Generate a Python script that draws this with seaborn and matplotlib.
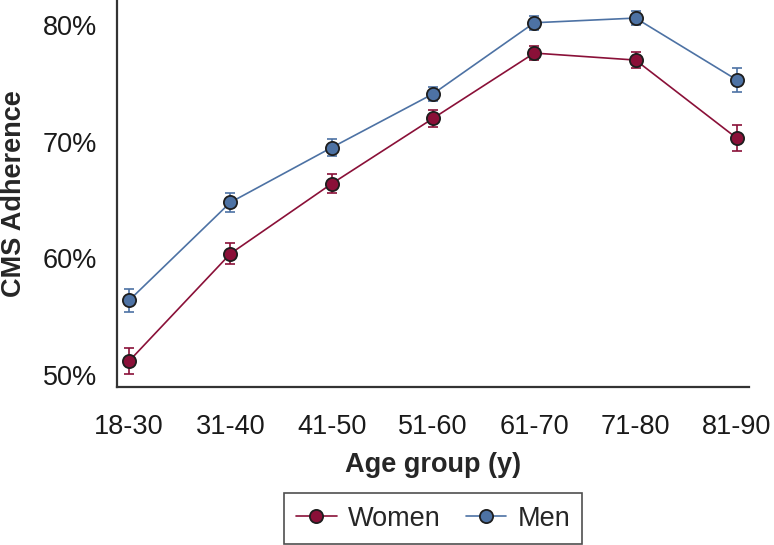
import matplotlib

matplotlib.use("Agg")

import matplotlib.pyplot as plt
import pandas as pd
import seaborn as sns
from matplotlib.lines import Line2D

# values (percent)
age_groups = ["18-30", "31-40", "41-50", "51-60", "61-70", "71-80", "81-90"]
women = [51.2, 60.4, 66.4, 72.0, 77.6, 77.0, 70.3]
women_err = [1.15, 0.9, 0.8, 0.7, 0.6, 0.7, 1.1]
men = [56.4, 64.8, 69.5, 74.1, 80.2, 80.6, 75.3]
men_err = [1.0, 0.8, 0.7, 0.6, 0.6, 0.6, 1.0]
y_ticks = [50, 60, 70, 80]

WOMEN_COLOR = "#8A1038"
MEN_COLOR = "#4D72A4"
EDGE = "#1E1E1E"
FS = 19.5

df = pd.DataFrame(
    {
        "age": age_groups * 2,
        "pos": list(range(len(age_groups))) * 2,
        "value": women + men,
        "err": women_err + men_err,
        "sex": ["Women"] * len(age_groups) + ["Men"] * len(age_groups),
    }
)

sns.set_theme(style="white")
plt.rcParams["font.family"] = ["Liberation Sans", "DejaVu Sans"]

fig = plt.figure(figsize=(7.74, 5.45), dpi=100)
ax = fig.add_axes([117 / 774, 1 - 387 / 545, (749 - 117) / 774, 387 / 545])

palette = {"Women": WOMEN_COLOR, "Men": MEN_COLOR}
for sex, grp in df.groupby("sex", sort=False):
    ax.errorbar(
        grp["pos"], grp["value"], yerr=grp["err"], fmt="none",
        ecolor=palette[sex], elinewidth=1.2, capsize=3.5, capthick=1.2, zorder=2,
    )

sns.lineplot(
    data=df, x="pos", y="value", hue="sex", palette=palette, ax=ax,
    marker="o", markersize=9.5, markeredgecolor=EDGE, markeredgewidth=1.3,
    linewidth=1.2, errorbar=None, legend=False, zorder=3,
)

ax.set_xlim(-0.12, 6.12)
ax.set_ylim(48.97, 82.15)
ax.set_xticks(range(len(age_groups)))
ax.set_xticklabels(age_groups)
ax.set_yticks(y_ticks)
ax.set_yticklabels([f"{t}%" for t in y_ticks])

for side in ["top", "right"]:
    ax.spines[side].set_visible(False)
for side in ["left", "bottom"]:
    ax.spines[side].set_color("#333333")
    ax.spines[side].set_linewidth(1.6)

ax.tick_params(axis="both", direction="out", length=6.5, width=1.4, color="#333333",
               labelsize=FS, labelcolor="#1a1a1a")
ax.tick_params(axis="y", pad=8)
ax.tick_params(axis="x", pad=13)
ax.grid(False)

ax.set_xlabel("Age group (y)", fontsize=FS, fontweight="bold", labelpad=8.5)
ax.set_ylabel("CMS Adherence", fontsize=FS, fontweight="bold")
ax.yaxis.set_label_coords(-0.142, 0.5)

handles = [
    Line2D([], [], color=palette[s], marker="o", markersize=9.5, markeredgecolor=EDGE,
           markeredgewidth=1.3, linewidth=1.2)
    for s in ["Women", "Men"]
]
leg = fig.legend(
    handles, ["Women", "Men"], loc="center", bbox_to_anchor=(433 / 774, 1 - 518.5 / 545),
    ncol=2, fontsize=FS, frameon=True, fancybox=False, handlelength=1.5,
    columnspacing=0.95, handletextpad=0.4, borderpad=0.45,
)
leg.get_frame().set_edgecolor("#222222")
leg.get_frame().set_linewidth(1.2)

fig.savefig("out.png", dpi=100)
